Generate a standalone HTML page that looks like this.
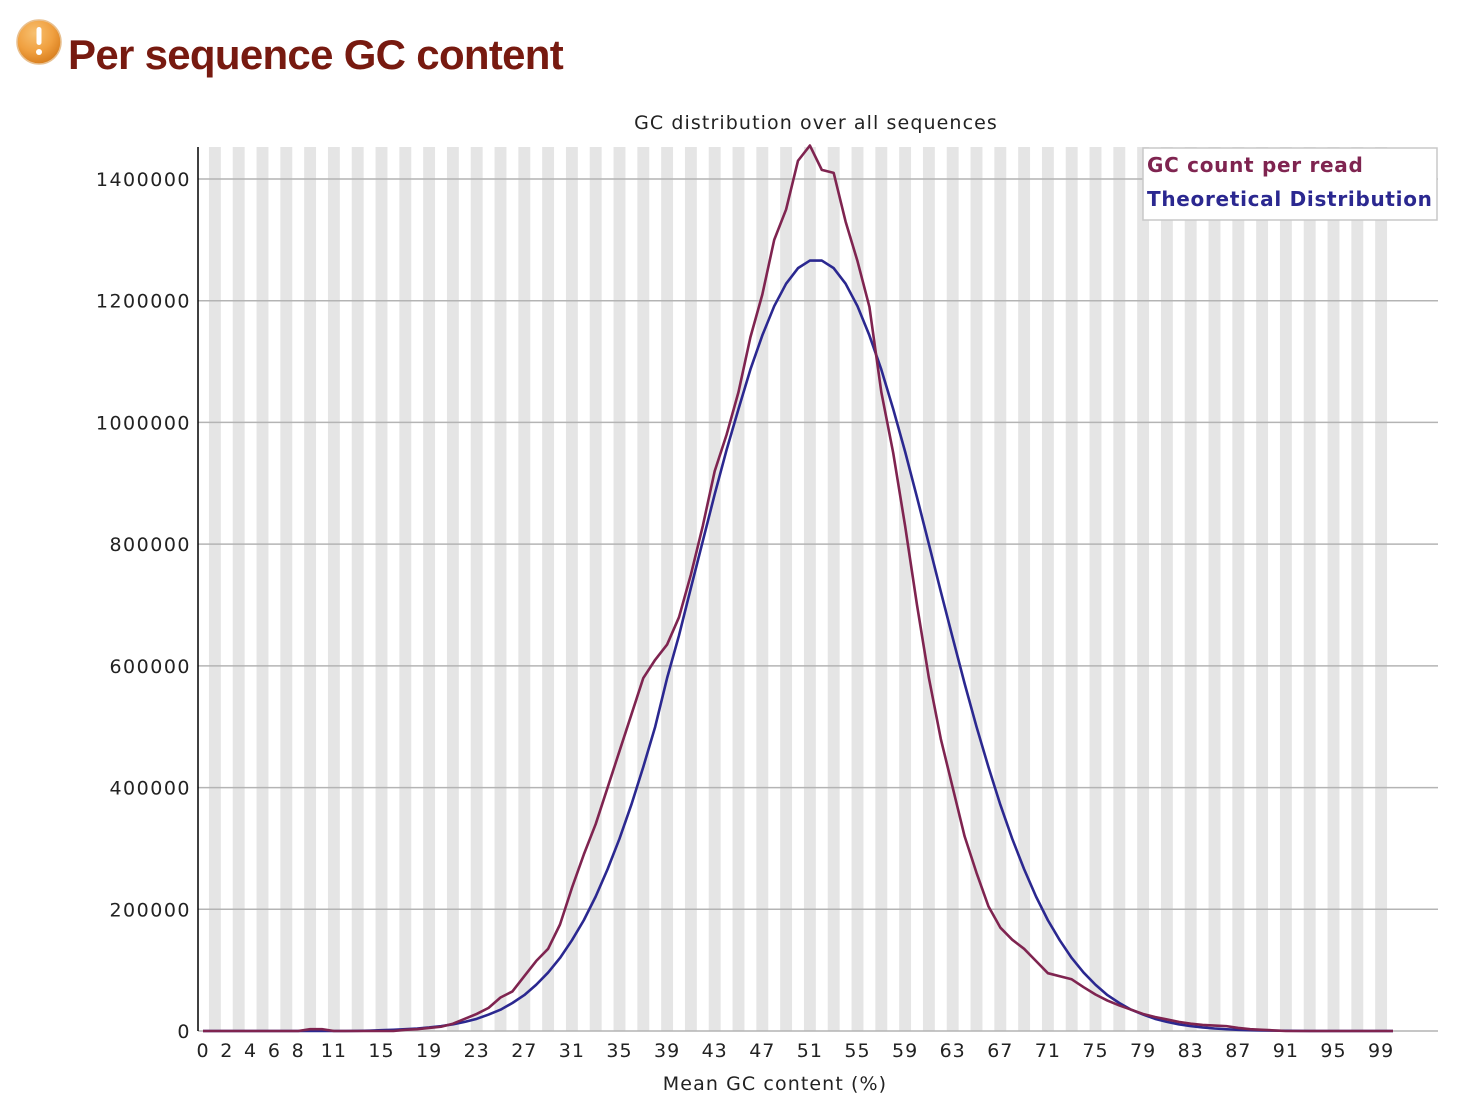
<!DOCTYPE html>
<html><head><meta charset="utf-8">
<style>
body{margin:0;background:#fff;width:1470px;height:1106px;overflow:hidden;position:relative;font-family:"DejaVu Sans","Liberation Sans",sans-serif}
#hdr{position:absolute;left:68px;top:31px;font-family:"Liberation Sans",Arial,sans-serif;font-weight:bold;font-size:42px;color:#771a10;letter-spacing:-0.7px;margin:0}
#icon{position:absolute;left:16px;top:19px}
</style></head><body>
<svg id="icon" width="48" height="48" viewBox="0 0 48 48">
<defs><radialGradient id="g" cx="40%" cy="30%" r="70%"><stop offset="0" stop-color="#f7c070"/><stop offset="0.6" stop-color="#f0a040"/><stop offset="1" stop-color="#d98020"/></radialGradient></defs>
<circle cx="23" cy="23" r="22" fill="url(#g)" stroke="#e8c090" stroke-width="1.5"/>
<rect x="20.5" y="8" width="5" height="18" rx="2.5" fill="#fff"/><circle cx="23" cy="33" r="3" fill="#fff"/>
</svg>
<h1 id="hdr">Per sequence GC content</h1>
<svg id="chart" width="1470" height="1106" style="position:absolute;left:0;top:0"></svg>
<script>
const categories = Array.from({length:101},(_,i)=>i);
const gcCount = [0,0,0,0,0,0,0,0,0,3000,3000,0,0,0,0,0,0,2000,3000,5000,7000,12000,20000,28000,38000,55000,65000,90000,115000,135000,175000,235000,290000,340000,400000,460000,520000,580000,610000,635000,680000,750000,830000,920000,980000,1050000,1140000,1210000,1300000,1350000,1430000,1455000,1415000,1410000,1330000,1265000,1190000,1050000,950000,830000,700000,580000,480000,400000,320000,260000,205000,170000,150000,135000,115000,95000,90000,85000,72000,60000,50000,42000,35000,28000,23000,19000,15000,12000,10000,9000,8000,5000,3000,2000,1000,0,0,0,0,0,0,0,0,0,0];
const theoretical = [0,0,0,0,0,0,0,0,0,0,0,0,0,200,600,1400,2000,2900,4100,5800,8000,11000,15000,20000,27000,35000,46000,59000,76000,96000,120000,149000,182000,221000,266000,316000,372000,434000,500000,580000,650000,728000,805000,882000,955000,1022000,1087000,1143000,1191000,1228000,1253500,1266000,1266000,1253500,1228000,1191000,1143000,1087000,1022000,952000,877000,800000,722000,646000,571000,500000,434000,372000,316000,266000,221000,182000,149000,120000,96000,76000,59000,46000,35000,27000,20000,15000,11000,8000,5800,4100,2900,2000,1400,1000,600,400,200,0,0,0,0,0,0,0,0];
const yTicks = [0,200000,400000,600000,800000,1000000,1200000,1400000];
const xTickLabels = [0,2,4,6,8,11,15,19,23,27,31,35,39,43,47,51,55,59,63,67,71,75,79,83,87,91,95,99];

const NS="http://www.w3.org/2000/svg";
const svg=document.getElementById('chart');
const X0=203, DX=11.9, Y0=1031, YS=852/1400000, LEFT=198, RIGHT=1438, TOP=147;
const xs=i=>X0+i*DX, ys=v=>Y0-v*YS;
function mk(t,a){const e=document.createElementNS(NS,t);for(const k in a)e.setAttribute(k,a[k]);svg.appendChild(e);return e;}

categories.forEach(i=>{ if(i%2===1){
 const r=mk('rect',{x:xs(i)-DX/2,y:TOP,width:DX,height:Y0-TOP,fill:'#e5e5e5'});
 
 
}});
yTicks.forEach(v=>{
 const l=mk('line',{x1:LEFT,x2:RIGHT,y1:ys(v),y2:ys(v),stroke:'#b4b4b4','stroke-width':1.5});
 
 
 const t=mk('text',{x:191,y:ys(v)+7,'text-anchor':'end','font-size':19,fill:'#222','letter-spacing':'1.5'});
 t.textContent=v;
 
 
});
const ax=mk('line',{x1:LEFT,x2:LEFT,y1:TOP,y2:Y0,stroke:'#000','stroke-width':1.5});


xTickLabels.forEach(v=>{
 const t=mk('text',{x:xs(v),y:1057,'text-anchor':'middle','font-size':19,fill:'#222','letter-spacing':'1'});
 t.textContent=v;
 
 
});
function line(data,color,name){
 const p=mk('polyline',{points:data.map((v,i)=>xs(i)+','+ys(v)).join(' '),fill:'none',stroke:color,'stroke-width':2.6,'stroke-linejoin':'round'});
 
 
}
line(theoretical,'#2b2890','theoretical-line');
line(gcCount,'#7f2450','gc-count-line');

const tt=mk('text',{x:816,y:129,'text-anchor':'middle','font-size':19,fill:'#222','letter-spacing':'1.1'});
tt.textContent='GC distribution over all sequences';


const xt=mk('text',{x:775,y:1090,'text-anchor':'middle','font-size':19,fill:'#222','letter-spacing':'1.1'});
xt.textContent='Mean GC content (%)';



const lb=mk('rect',{x:1143,y:148,width:294,height:72,fill:'#fff',stroke:'#c8c8c8','stroke-width':1.5});


const l1=mk('text',{x:1147,y:172,'font-size':20,'font-weight':'bold',fill:'#7f2450','letter-spacing':'0.7'});
l1.textContent='GC count per read';


const l2=mk('text',{x:1147,y:206,'font-size':20,'font-weight':'bold',fill:'#2b2890','letter-spacing':'0.7'});
l2.textContent='Theoretical Distribution';


</script>
</body></html>
